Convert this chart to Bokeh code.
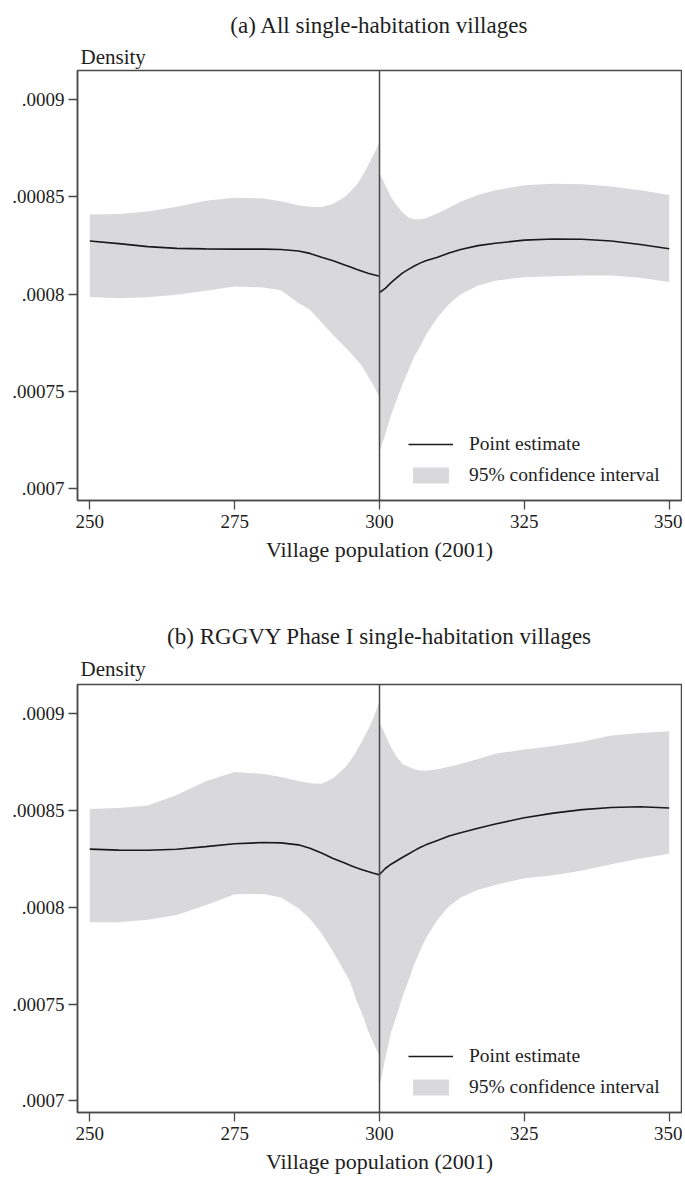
from bokeh.plotting import figure
from bokeh.models import Span, Legend, LegendItem, FixedTicker, Title, Range1d
from bokeh.layouts import column
from bokeh.embed import file_html
from bokeh.resources import INLINE

# ---------------- data ----------------
y_ticks = [0.0007, 0.00075, 0.0008, 0.00085, 0.0009]
y_tick_labels = [".0007", ".00075", ".0008", ".00085", ".0009"]
x_ticks = [250, 275, 300, 325, 350]
cutoff = 300

# Panel (a): all single-habitation villages
a_x_left = [250, 255, 260, 265, 270, 275, 280, 283, 286, 288, 290, 292, 294, 295, 296, 297, 298, 299, 300]
a_est_left = [0.0008274, 0.000826, 0.0008245, 0.0008236, 0.0008233, 0.0008232, 0.0008232, 0.000823,
              0.0008222, 0.000821, 0.000819, 0.0008172, 0.000815, 0.000814, 0.0008128, 0.0008118,
              0.0008108, 0.00081, 0.0008093]
a_hi_left = [0.000841, 0.0008412, 0.0008425, 0.000845, 0.000848, 0.0008496, 0.0008492, 0.0008478,
             0.0008458, 0.000845, 0.0008449, 0.0008465, 0.00085, 0.000853, 0.000856, 0.0008605,
             0.000866, 0.000872, 0.000878]
a_lo_left = [0.0007986, 0.000798, 0.0007985, 0.0007997, 0.0008018, 0.000804, 0.0008035, 0.000802,
             0.0007955, 0.000792, 0.0007855, 0.000779, 0.000773, 0.00077, 0.0007665, 0.000763,
             0.000758, 0.000753, 0.000747]
a_x_right = [300, 301, 302, 303, 304, 305, 306, 307, 308, 310, 312, 314, 317, 320, 325, 330, 335, 340, 345, 350]
a_est_right = [0.0008009, 0.000803, 0.000806, 0.0008085, 0.000811, 0.0008128, 0.0008145, 0.000816,
               0.0008172, 0.000819, 0.0008212, 0.000823, 0.000825, 0.0008262, 0.0008278, 0.0008284,
               0.0008283, 0.0008274, 0.0008256, 0.0008234]
a_hi_right = [0.0008625, 0.000856, 0.00085, 0.0008455, 0.000842, 0.0008395, 0.0008385, 0.0008385,
              0.000839, 0.0008415, 0.0008445, 0.0008475, 0.000851, 0.0008535, 0.000856, 0.0008568,
              0.0008566, 0.0008554, 0.0008535, 0.000851]
a_lo_right = [0.000719, 0.000728, 0.000738, 0.000746, 0.000754, 0.000761, 0.000768, 0.000773,
              0.000779, 0.000788, 0.000795, 0.0008, 0.0008045, 0.000807, 0.0008088, 0.0008093,
              0.0008096, 0.0008096, 0.0008085, 0.0008063]

# Panel (b): RGGVY Phase I single-habitation villages
b_x_left = [250, 255, 260, 265, 270, 275, 280, 283, 286, 288, 290, 292, 294, 295, 296, 297, 298, 299, 300]
b_est_left = [0.00083, 0.0008295, 0.0008294, 0.0008299, 0.0008313, 0.0008328, 0.0008334, 0.0008332,
              0.0008322, 0.0008305, 0.000828, 0.0008252, 0.0008228, 0.0008216, 0.0008204, 0.0008194,
              0.0008184, 0.0008175, 0.0008167]
b_hi_left = [0.0008507, 0.0008512, 0.0008525, 0.000858, 0.000865, 0.0008698, 0.0008688, 0.0008672,
             0.0008652, 0.000864, 0.0008638, 0.0008666, 0.000872, 0.0008758, 0.0008805, 0.0008858,
             0.0008915, 0.000898, 0.0009065]
b_lo_left = [0.0007922, 0.0007922, 0.0007935, 0.000796, 0.000801, 0.0008067, 0.0008068, 0.000805,
             0.0007995, 0.000794, 0.0007865, 0.000777, 0.0007665, 0.000761, 0.000752, 0.000745,
             0.0007365, 0.0007295, 0.000723]
b_x_right = [300, 301, 302, 303, 304, 305, 306, 307, 308, 310, 312, 314, 317, 320, 325, 330, 335, 340, 345, 350]
b_est_right = [0.0008169, 0.00082, 0.0008222, 0.000824, 0.0008258, 0.0008275, 0.0008292, 0.0008308,
               0.0008322, 0.0008345, 0.0008368, 0.0008385, 0.0008408, 0.000843, 0.0008462, 0.0008486,
               0.0008504, 0.0008515, 0.0008519, 0.0008512]
b_hi_right = [0.0008955, 0.000889, 0.0008825, 0.0008775, 0.000874, 0.0008725, 0.0008712, 0.0008706,
              0.0008705, 0.0008712, 0.0008725, 0.000874, 0.0008765, 0.0008792, 0.0008815, 0.0008832,
              0.0008855, 0.0008887, 0.00089, 0.0008908]
b_lo_right = [0.000707, 0.000722, 0.0007355, 0.0007445, 0.000754, 0.000762, 0.0007705, 0.0007775,
              0.000784, 0.0007935, 0.0008005, 0.000805, 0.000809, 0.0008115, 0.000815, 0.0008165,
              0.000819, 0.0008222, 0.0008252, 0.0008276]

FONT = "Liberation Serif"
TXT = "#1e1e1e"
BAND = "#d9d9db"
FRAME = "#4a4a4a"


def make_panel(title, xl, el, hl, ll, xr, er, hr, lr, height, btop, bbot, dens_standoff):
    p = figure(width=682, height=height, title=None,
               x_range=Range1d(247.88, 352.12), y_range=Range1d(0.000694, 0.000915),
               output_backend="svg", toolbar_location=None,
               min_border_left=77, min_border_right=1,
               min_border_top=btop, min_border_bottom=bbot)
    p.background_fill_color = "white"
    p.border_fill_color = "white"
    p.grid.visible = False
    p.outline_line_color = FRAME
    p.outline_line_width = 1.5

    band_l = p.varea(x=xl, y1=ll, y2=hl, fill_color=BAND)
    p.varea(x=xr, y1=lr, y2=hr, fill_color=BAND)
    line_l = p.line(x=xl, y=el, line_color="#1a1a1a", line_width=1.6)
    p.line(x=xr, y=er, line_color="#1a1a1a", line_width=1.6)

    p.add_layout(Span(location=cutoff, dimension="height", line_color=FRAME, line_width=1.5))

    # axes
    p.xaxis.ticker = FixedTicker(ticks=x_ticks)
    p.yaxis.ticker = FixedTicker(ticks=y_ticks)
    p.yaxis.major_label_overrides = {t: l for t, l in zip(y_ticks, y_tick_labels)}
    for ax in (p.xaxis[0], p.yaxis[0]):
        ax.axis_line_color = FRAME
        ax.axis_line_width = 1.5
        ax.major_tick_line_color = FRAME
        ax.major_tick_line_width = 1.3
        ax.major_tick_in = 0
        ax.major_tick_out = 9
        ax.minor_tick_line_color = None
        ax.major_label_text_font = FONT
        ax.major_label_text_font_size = "19px"
        ax.major_label_text_color = TXT
        ax.axis_label_text_font = FONT
        ax.axis_label_text_font_style = "normal"
        ax.axis_label_text_font_size = "22px"
        ax.axis_label_text_color = TXT
    p.xaxis.major_label_standoff = 5
    p.yaxis.major_label_standoff = 4
    p.xaxis.axis_label = "Village population (2001)"
    p.xaxis.axis_label_standoff = 6

    # titles (first added is closest to the frame)
    p.add_layout(Title(text="Density", align="left", offset=3, standoff=dens_standoff,
                       text_font=FONT, text_font_size="21px", text_font_style="normal",
                       text_color=TXT), "above")
    p.add_layout(Title(text=title, align="center", standoff=6,
                       text_font=FONT, text_font_size="23px", text_font_style="normal",
                       text_color=TXT), "above")

    legend = Legend(items=[LegendItem(label="Point estimate", renderers=[line_l]),
                           LegendItem(label="95% confidence interval", renderers=[band_l])],
                    location=(331, 14), padding=0, spacing=9,
                    glyph_width=45, glyph_height=20, label_standoff=16, label_height=20,
                    label_text_font=FONT, label_text_font_size="19.5px", label_text_color=TXT,
                    border_line_color=None, background_fill_alpha=0)
    p.add_layout(legend, "center")
    return p


p1 = make_panel("(a) All single-habitation villages",
                a_x_left, a_est_left, a_hi_left, a_lo_left,
                a_x_right, a_est_right, a_hi_right, a_lo_right,
                height=614, btop=70, bbot=114, dens_standoff=4)
p2 = make_panel("(b) RGGVY Phase I single-habitation villages",
                b_x_left, b_est_left, b_hi_left, b_lo_left,
                b_x_right, b_est_right, b_hi_right, b_lo_right,
                height=562, btop=70, bbot=61, dens_standoff=7)

layout = column(p1, p2, spacing=0)
open("out.html", "w").write(file_html(layout, INLINE))
